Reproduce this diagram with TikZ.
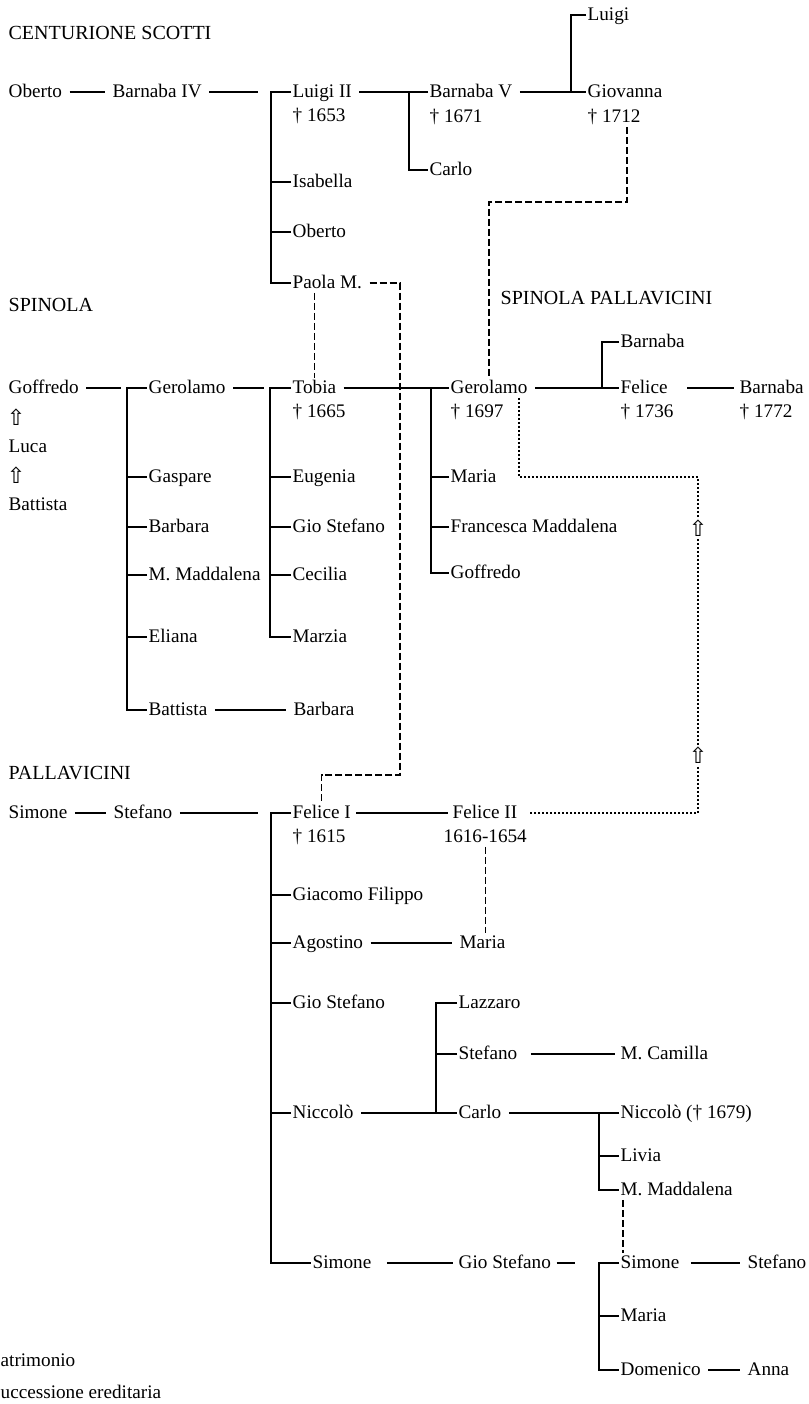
\documentclass[tikz,border=0pt]{standalone}
\usepackage{fontspec}
\setmainfont{Liberation Serif}
\newfontfamily\arrowfont{DejaVu Sans}
\tikzset{
  nm/.style={anchor=west,inner xsep=0.5pt,inner ysep=0pt,text height=1.6ex,text depth=0.4ex},
  ttl/.style={anchor=west,inner sep=0pt,font=\fontsize{10}{12}\selectfont},
  wed/.style={shorten <=3pt,shorten >=3pt},
  tobr/.style={shorten <=3pt},
  heir/.style={line width=0.7pt,dash pattern=on 3.5pt off 1.5pt},
  succ/.style={line width=0.9pt,dash pattern=on 0.9pt off 1.1pt},
  upar/.style={font=\arrowfont\fontsize{11}{11}\selectfont,fill=white,inner sep=0.6pt}
}
\begin{document}
\begin{tikzpicture}[x=0.5pt,y=-0.5pt,line width=0.65pt,font=\fontsize{9.6}{11}\selectfont]
\useasboundingbox (0,0) rectangle (809,1404);

% Centurione Scotti
\node[ttl] (cs) at (8,33) {CENTURIONE SCOTTI};
\node[nm] (obe1) at (7,92) {Oberto};
\node[nm] (bar4) at (111,92) {Barnaba IV};
\node[nm] (lui2) at (291,92) {Luigi II};
\node[nm] (lui2d) at (291,116) {† 1653};
\node[nm] (isa) at (291,182) {Isabella};
\node[nm] (obe2) at (291,232) {Oberto};
\node[nm] (pao) at (291,283) {Paola M.};
\node[nm] (bar5) at (428,92) {Barnaba V};
\node[nm] (bar5d) at (428,117) {† 1671};
\node[nm] (car1) at (428,170) {Carlo};
\node[nm] (lui) at (586,15) {Luigi};
\node[nm] (gio) at (586,92) {Giovanna};
\node[nm] (giod) at (586,117) {† 1712};

\draw[wed] (obe1.east) -- (bar4.west);
\draw[tobr] (bar4.east) -- ([xshift=-16.5pt]lui2.west);
\draw (lui2.west) -- ++(-20,0) |- (pao.west);
\foreach \n in {isa,obe2} \draw (\n.west) -- ++(-20,0);
\draw[tobr] (lui2.east) -- ([xshift=-9.5pt]bar5.west);
\draw (bar5.west) -- ++(-19,0) |- (car1.west);
\draw[tobr] (bar5.east) -- ([xshift=-7pt]gio.west);
\draw (lui.west) -- ++(-15,0) |- (gio.west);

% Spinola
\node[ttl] (sp) at (8,305) {SPINOLA};
\node[nm] (gof1) at (7,388) {Goffredo};
\node[upar] (a1) at (16,417) {⇧};
\node[nm] (luc) at (7,447) {Luca};
\node[upar] (a2) at (16,475) {⇧};
\node[nm] (bat1) at (7,505) {Battista};
\node[nm] (ger1) at (147,388) {Gerolamo};
\node[nm] (gas) at (147,477) {Gaspare};
\node[nm] (barb1) at (147,527) {Barbara};
\node[nm] (mma1) at (147,575) {M. Maddalena};
\node[nm] (eli) at (147,637) {Eliana};
\node[nm] (bat2) at (147,710) {Battista};
\node[nm] (barb2) at (292,710) {Barbara};
\node[nm] (tob) at (291,388) {Tobia};
\node[nm] (tobd) at (291,412) {† 1665};
\node[nm] (eug) at (291,477) {Eugenia};
\node[nm] (gst1) at (291,527) {Gio Stefano};
\node[nm] (cec) at (291,575) {Cecilia};
\node[nm] (mar1) at (291,637) {Marzia};

\draw[tobr] (gof1.east) -- ([xshift=-13pt]ger1.west);
\draw (ger1.west) -- ++(-20,0) |- (bat2.west);
\foreach \n in {gas,barb1,mma1,eli} \draw (\n.west) -- ++(-20,0);
\draw[tobr] (ger1.east) -- ([xshift=-13.5pt]tob.west);
\draw (tob.west) -- ++(-21,0) |- (mar1.west);
\foreach \n in {eug,gst1,cec} \draw (\n.west) -- ++(-21,0);
\draw[wed] (bat2.east) -- (barb2.west);

% Spinola Pallavicini
\node[ttl] (spp) at (500,298) {SPINOLA PALLAVICINI};
\node[nm] (ger2) at (449,388) {Gerolamo};
\node[nm] (ger2d) at (449,412) {† 1697};
\node[nm] (mar2) at (449,477) {Maria};
\node[nm] (fma) at (449,527) {Francesca Maddalena};
\node[nm] (gof2) at (449,573) {Goffredo};
\node[nm] (barn3) at (619,342) {Barnaba};
\node[nm] (fel) at (619,388) {Felice};
\node[nm] (feld) at (619,412) {† 1736};
\node[nm] (barn4) at (738,388) {Barnaba};
\node[nm] (barn4d) at (738,412) {† 1772};

\draw[tobr] (tob.east) -- ([xshift=-8.5pt]ger2.west);
\draw (ger2.west) -- ++(-18,0) |- (gof2.west);
\foreach \n in {mar2,fma} \draw (\n.west) -- ++(-18,0);
\draw[tobr] (ger2.east) -- ([xshift=-8pt]fel.west);
\draw (barn3.west) -- ++(-17,0) |- (fel.west);
\draw[shorten <=9pt,shorten >=2pt] (fel.east) -- (barn4.west);

% Pallavicini
\node[ttl] (pal) at (8,773) {PALLAVICINI};
\node[nm] (sim1) at (7,813) {Simone};
\node[nm] (ste1) at (112,813) {Stefano};
\node[nm] (fel1) at (291,813) {Felice I};
\node[nm] (fel1d) at (291,837) {† 1615};
\node[nm] (gfi) at (291,895) {Giacomo Filippo};
\node[nm] (ago) at (291,943) {Agostino};
\node[nm] (gst2) at (291,1003) {Gio Stefano};
\node[nm] (nic1) at (291,1113) {Niccolò};
\node[nm] (sim2) at (311,1263) {Simone};
\node[nm] (fel2) at (451,813) {Felice II};
\node[nm] (fel2d) at (442,837) {1616-1654};
\node[nm] (mar3) at (458,943) {Maria};
\node[nm] (laz) at (457,1003) {Lazzaro};
\node[nm] (ste2) at (457,1054) {Stefano};
\node[nm] (car2) at (457,1113) {Carlo};
\node[nm] (mca) at (619,1054) {M. Camilla};
\node[nm] (nic2) at (619,1113) {Niccolò († 1679)};
\node[nm] (liv) at (619,1156) {Livia};
\node[nm] (mma2) at (619,1190) {M. Maddalena};
\node[nm] (gst3) at (457,1263) {Gio Stefano};
\node[nm] (sim3) at (619,1263) {Simone};
\node[nm] (mar4) at (619,1316) {Maria};
\node[nm] (dom) at (619,1370) {Domenico};
\node[nm] (ste3) at (746,1263) {Stefano};
\node[nm] (ann) at (746,1370) {Anna};

\draw[wed] (sim1.east) -- (ste1.west);
\draw[tobr] (ste1.east) -- ([xshift=-16.5pt]fel1.west);
\draw (fel1.west) -- ++(-20,0) |- (sim2.west);
\foreach \n in {gfi,ago,gst2,nic1} \draw (\n.west) -- ++(-20,0);
\draw[shorten <=2pt,shorten >=1.5pt] (fel1.east) -- (fel2.west);
\draw[wed] (ago.east) -- (mar3.west);
\draw[tobr] (nic1.east) -- ([xshift=-10.5pt]car2.west);
\draw (laz.west) -- ++(-21,0) |- (car2.west);
\draw (ste2.west) -- ++(-21,0);
\draw[shorten <=6pt,shorten >=2pt] (ste2.east) -- (mca.west);
\draw[tobr] (car2.east) -- ([xshift=-10pt]nic2.west);
\draw (nic2.west) -- ++(-20,0) |- (mma2.west);
\draw (liv.west) -- ++(-20,0);
\draw[shorten <=7pt,shorten >=2pt] (sim2.east) -- (gst3.west);
\draw[shorten <=2pt,shorten >=22pt] (gst3.east) -- (sim3.west);
\draw (sim3.west) -- ++(-20,0) |- (dom.west);
\draw (mar4.west) -- ++(-20,0);
\draw[shorten <=5pt,shorten >=3pt] (sim3.east) -- (ste3.west);
\draw[wed] (dom.east) -- (ann.west);

% eredita
\coordinate (h1) at (627,202);
\coordinate (h2) at (400,775);
\draw[heir] (giod.south -| h1) -- (h1) -| (ger2.north);
\draw[heir,shorten <=3pt] (pao.east) -| (h2) -| (fel1.north);
\draw[heir] (pao.south -| tob.north) -- (tob.north);
\draw[heir] (fel2d.south) -- (fel2d.south |- mar3.north);
\draw[heir] ([xshift=2pt]mma2.south west) -- ([xshift=2pt]sim3.north west);

% successione
\coordinate (sc) at (698,477);
\draw[succ,shorten >=5pt] ([xshift=-5pt]ger2.south east) |- (sc) |- (fel2.east);
\node[upar] (u1) at (698,528) {⇧};
\node[upar] (u2) at (698,755) {⇧};

\node[ttl,font=\fontsize{9.6}{11}\selectfont] (leg1) at (0,1360) {atrimonio};
\node[ttl,font=\fontsize{9.6}{11}\selectfont] (leg2) at (0,1392) {uccessione ereditaria};
\end{tikzpicture}
\end{document}
